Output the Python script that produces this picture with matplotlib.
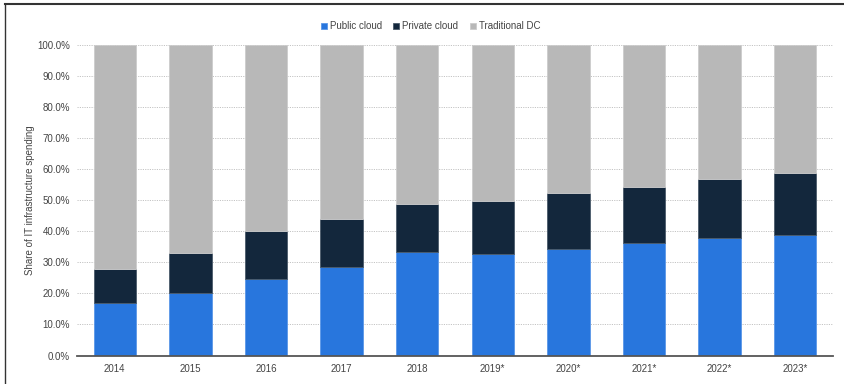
import matplotlib.pyplot as plt
from matplotlib.lines import Line2D
import numpy as np

plt.rcParams['font.family'] = ['Liberation Sans', 'DejaVu Sans']

years = ["2014", "2015", "2016", "2017", "2018", "2019*", "2020*", "2021*", "2022*", "2023*"]
public_cloud = [17.0, 20.0, 24.6, 28.4, 33.3, 32.8, 34.3, 36.2, 37.7, 38.7]
private_cloud = [11.0, 13.0, 15.4, 15.6, 15.4, 17.0, 18.0, 18.0, 19.2, 20.2]
traditional_dc = [100 - a - b for a, b in zip(public_cloud, private_cloud)]

c_public = "#2876dd"
c_private = "#13273c"
c_trad = "#b8b8b8"
txt = "#444444"

fig = plt.figure(figsize=(8.44, 3.84), dpi=100)
ax = fig.add_axes([0.0912, 0.0742, 0.8958, 0.8088])

x = np.arange(len(years))
w = 0.56
pub = np.array(public_cloud)
priv = np.array(private_cloud)
ax.bar(x, pub, w, color=c_public, edgecolor="#5a97e8", linewidth=0.6, label="Public cloud", zorder=3)
ax.bar(x, priv, w, bottom=pub, color=c_private, edgecolor="#4a5a6a", linewidth=0.6, label="Private cloud", zorder=3)
ax.bar(x, traditional_dc, w, bottom=pub + priv, color=c_trad, edgecolor="#cccccc", linewidth=0.6, label="Traditional DC", zorder=3)

ax.set_xlim(-0.5, len(years) - 0.5)
ax.set_ylim(0, 100)
ax.set_yticks(np.arange(0, 101, 10))
ax.set_yticklabels([f"{v:.1f}%" for v in np.arange(0, 101, 10)])
ax.set_xticks(x)
ax.set_xticklabels(years)
ax.tick_params(axis="both", length=0, labelsize=7, colors=txt)
ax.tick_params(axis="y", pad=5)
ax.tick_params(axis="x", pad=6)

ax.grid(axis="y", color="#c4c4c4", linestyle=(0, (1.2, 1.2)), linewidth=0.7, zorder=0)
for s in ["top", "right", "left"]:
    ax.spines[s].set_visible(False)
ax.spines["bottom"].set_color("#555555")
ax.spines["bottom"].set_linewidth(1.3)
ax.spines["bottom"].set_zorder(4)

ax.set_ylabel("Share of IT infrastructure spending", fontsize=7, color=txt)
ax.yaxis.set_label_coords(-0.056, 0.5)

leg = fig.legend(loc="center", bbox_to_anchor=(0.51, 0.932), ncol=3, frameon=False,
                 fontsize=7, handlelength=0.6, handleheight=0.6, handletextpad=0.3,
                 columnspacing=1.2)
for t in leg.get_texts():
    t.set_color(txt)

# frame lines along the top and left edge
fig.add_artist(Line2D([5 / 844, 1], [1 - 4 / 384, 1 - 4 / 384], color="#333333", linewidth=1.5))
fig.add_artist(Line2D([5 / 844, 5 / 844], [0, 1 - 4 / 384], color="#333333", linewidth=1.0))

fig.savefig("out.png", dpi=100)
